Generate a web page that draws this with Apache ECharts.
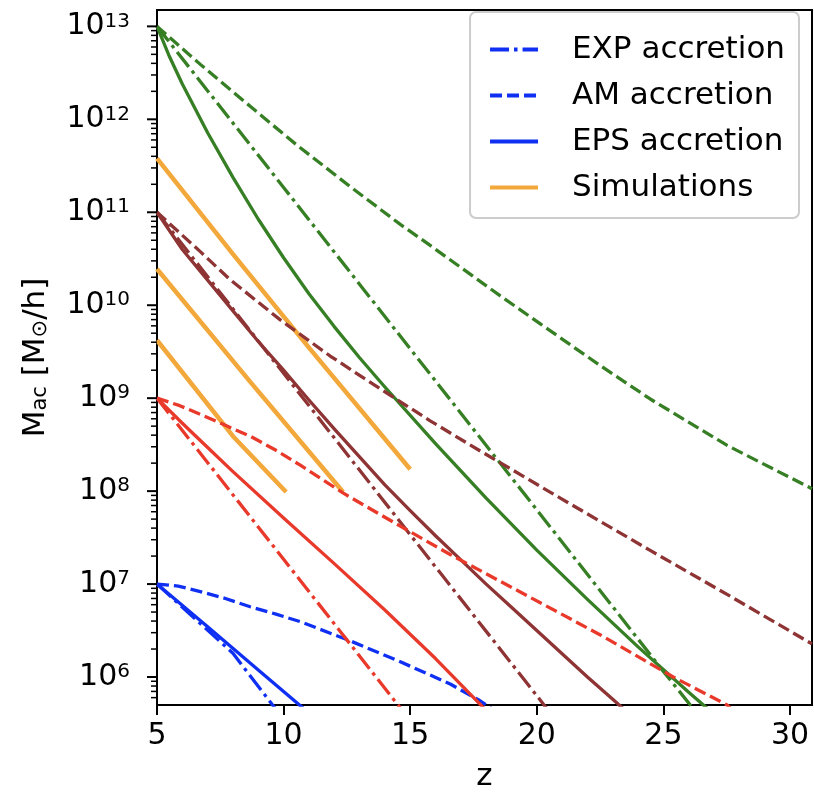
<!DOCTYPE html>
<html><head><meta charset="utf-8">
<script src="https://cdn.jsdelivr.net/npm/echarts@6/dist/echarts.min.js"></script>
<style>html,body{margin:0;padding:0;background:#fff}#c{width:814px;height:797px}</style>
</head><body><div id="c"></div>
<script>
// ---- axis ticks / labels ----
const xTicks = [5, 10, 15, 20, 25, 30];
const yTicks = [1e6, 1e7, 1e8, 1e9, 1e10, 1e11, 1e12, 1e13];
const legendNames = ['EXP accretion', 'AM accretion', 'EPS accretion', 'Simulations'];

// ---- data: [z, M_ac] ----
// M0 = 1e13 (green)
const expG = [[5,1e13],[10,1.85e11],[15,3.4e9],[20,6.3e7],[25,1.15e6],[27,2.4e5]];
const amG  = [[5,1e13],[6.71,3.9e12],[8.68,1.38e12],[10.54,5.24e11],[12.63,1.89e11],[14.61,7.4e10],[15.79,4.4e10],[18.56,1.26e10],[20.14,6.3e9],[22.55,2.2e9],[24.48,9.8e8],[27.52,3.1e8],[30.87,1.06e8]];
const epsG = [[5,1e13],[5.5,4.68e12],[6,2.4e12],[7,7.16e11],[8,2.37e11],[9,8.41e10],[10,3.24e10],[11,1.33e10],[12,5.89e9],[13,2.72e9],[14,1.32e9],[16,3.24e8],[18,8.41e7],[20,2.32e7],[22,6.84e6],[24,2.11e6],[26,6.84e5],[27,3.98e5]];
// M0 = 1e11 (brown)
const expB = [[5,1e11],[10,1.85e9],[15,3.4e7],[20,6.3e5],[21,2.8e5]];
const amB  = [[5,1e11],[6.71,3.77e10],[7.89,1.88e10],[9.87,6.95e9],[11.84,2.84e9],[13.94,1.2e9],[15.79,5.7e8],[17.77,2.7e8],[20.93,8.4e7],[24.48,2.3e7],[27.64,7.4e6],[30.87,2.27e6]];
const epsB = [[5,1e11],[6,3.98e10],[7,1.86e10],[8,8.7e9],[9,4.07e9],[10,2.0e9],[11,9.55e8],[12,4.68e8],[13,2.34e8],[14,1.17e8],[15,6.17e7],[16,3.31e7],[17,1.82e7],[18,1e7],[19,5.62e6],[20,3.16e6],[21,1.78e6],[22,1e6],[23,5.75e5],[24,3.3e5]];
// M0 = 1e9 (red)
const expR = [[5,1e9],[10,1.85e7],[15,3.4e5]];
const amR  = [[5,1e9],[5.9,8.3e8],[6.71,6.7e8],[7.7,5.1e8],[8.68,3.9e8],[9.7,2.75e8],[10.66,1.9e8],[12.36,9.5e7],[14.61,4.2e7],[16.58,2.08e7],[18.56,1.07e7],[22.55,2.8e6],[25.39,1.0e6],[27.52,5.0e5],[28.82,2.2e5]];
const epsR = [[5,1e9],[6,5.37e8],[7,2.95e8],[8,1.62e8],[10,5.13e7],[12,1.66e7],[14,5.25e6],[16,1.58e6],[18,4.37e5]];
// M0 = 1e7 (blue)
const expBl = [[5,1e7],[8,1.8e6],[10,3.5e5]];
const amBl  = [[5,1e7],[5.84,9.5e6],[6.71,8.3e6],[7.7,7.0e6],[8.68,5.7e6],[9.7,4.75e6],[10.66,3.94e6],[12.63,2.45e6],[14.61,1.46e6],[16.58,8.4e5],[17.69,5.7e5],[18.2,4.6e5]];
const epsBl = [[5,1e7],[7,3.47e6],[9,1.19e6],[11,4.1e5]];
// Simulations (orange)
const sim1 = [[5,3.8e11],[8,3.55e10],[11,3.5e9],[15,1.72e8]];
const sim2 = [[5,2.45e10],[8.7,1.48e9],[12.35,9.8e7]];
const sim3 = [[5,4.2e9],[8,3.9e8],[10.1,9.8e7]];

// ---- styles ----
const FONT = 'DejaVu Sans';
const C = {green:'#367f24', brown:'#8e3434', red:'#e8392b', blue:'#0f30f2', orange:'#f3a83b'};
const DASH = [12, 5];
const DASHDOT = [19, 5, 3.5, 5];

function line(name, data, color, type, width) {
  return {
    name, type: 'line', data, symbol: 'none', showSymbol: false, clip: true, smooth: false,
    lineStyle: {color, type, width: width || 3.3, cap: 'butt', join: 'round'}, itemStyle: {color},
    z: 2, animation: false, silent: true
  };
}

const yMinor = [];
[1e5].concat(yTicks).forEach(d => { for (let k = 2; k <= 9; k++) { const v = d * k; if (v > 5e5 && v < 1.5e13) yMinor.push(v); } });

function tickSeries(name, values, len, width) {
  return {
    name, type: 'custom', coordinateSystem: 'cartesian2d', data: values.map(v => [5, v]),
    encode: {x: 0, y: 1}, clip: false, silent: true, z: 5,
    renderItem: (params, api) => {
      const p = api.coord([api.value(0), api.value(1)]);
      return {type: 'line', shape: {x1: p[0] - len, y1: p[1], x2: p[0], y2: p[1]}, style: {stroke: '#000', lineWidth: width}};
    }
  };
}

const series = [
  line('EXP accretion', expBl, C.blue, DASHDOT),
  line('AM accretion', amBl, C.blue, DASH),
  line('EPS accretion', epsBl, C.blue, 'solid'),
  line('Simulations', sim1, C.orange, 'solid', 4.5),
  line('sim2', sim2, C.orange, 'solid', 4.5),
  line('sim3', sim3, C.orange, 'solid', 4.5),
  line('expG', expG, C.green, DASHDOT), line('amG', amG, C.green, DASH), line('epsG', epsG, C.green, 'solid'),
  line('expB', expB, C.brown, DASHDOT), line('amB', amB, C.brown, DASH), line('epsB', epsB, C.brown, 'solid'),
  line('expR', expR, C.red, DASHDOT), line('amR', amR, C.red, DASH), line('epsR', epsR, C.red, 'solid'),
  tickSeries('minorTicks', yMinor, 6, 1.5),
  tickSeries('majorTicks', yTicks, 10, 2)
];

const chart = echarts.init(document.getElementById('c'), null, {renderer: 'canvas'});
chart.setOption({
  animation: false,
  backgroundColor: '#fff',
  grid: {left: 157, right: 2, top: 10, bottom: 92, show: true, borderColor: '#000', borderWidth: 2, backgroundColor: 'transparent'},
  legend: {
    data: legendNames, orient: 'vertical', right: 15, top: 12,
    padding: [20, 14, 13, 18], itemWidth: 48, itemHeight: 14, itemGap: 11,
    borderColor: '#cccccc', borderWidth: 2, borderRadius: 6, backgroundColor: '#fff',
    itemStyle: {opacity: 0},
    lineStyle: {width: 4},
    textStyle: {fontFamily: FONT, fontSize: 31, color: '#000', lineHeight: 35, padding: [0, 0, 0, 29]},
    selectedMode: false
  },
  xAxis: {
    type: 'value', min: 5, max: 30.87, interval: 5,
    name: 'z', nameLocation: 'middle', nameGap: 56,
    nameTextStyle: {fontFamily: FONT, fontSize: 31, color: '#000'},
    axisLine: {lineStyle: {color: '#000', width: 2}},
    axisTick: {show: true, inside: false, length: 10, lineStyle: {color: '#000', width: 2}, customValues: xTicks},
    axisLabel: {customValues: xTicks, margin: 16, fontFamily: FONT, fontSize: 30, color: '#000'},
    splitLine: {show: false}
  },
  yAxis: {
    type: 'log', logBase: 10, min: 5e5, max: 1.5e13,
    name: '{m|M}{s|ac}{m| [M}{s|⊙}{m|/h]}', nameLocation: 'middle', nameGap: 106, nameRotate: 90,
    nameTextStyle: {fontFamily: FONT, color: '#000', rich: {
      m: {fontFamily: FONT, fontSize: 31, lineHeight: 36, verticalAlign: 'bottom', color: '#000'},
      s: {fontFamily: FONT, fontSize: 21, lineHeight: 21, verticalAlign: 'bottom', color: '#000'}
    }},
    axisLine: {lineStyle: {color: '#000', width: 2}},
    axisTick: {show: false},
    axisLabel: {
      customValues: yTicks, margin: 27,
      formatter: v => '{b|10}{s|' + Math.round(Math.log10(v)) + '}',
      rich: {
        b: {fontFamily: FONT, fontSize: 30, lineHeight: 30, verticalAlign: 'bottom', color: '#000'},
        s: {fontFamily: FONT, fontSize: 20, lineHeight: 6, verticalAlign: 'top', color: '#000'}
      }
    },
    splitLine: {show: false}
  },
  series
});
</script>
</body></html>
